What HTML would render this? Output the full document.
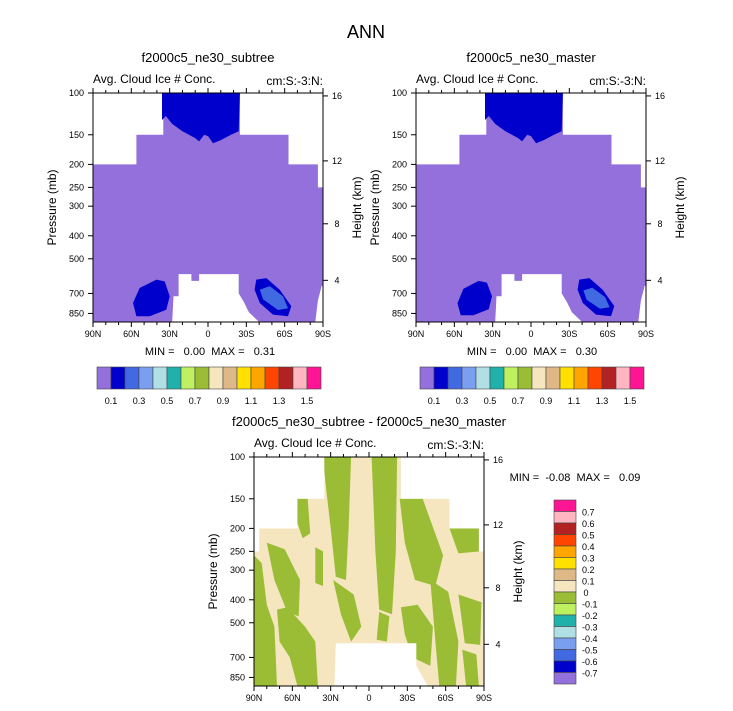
<!DOCTYPE html>
<html><head><meta charset="utf-8">
<style>
html,body{margin:0;padding:0;background:#fff;}
svg{display:block;font-family:"Liberation Sans",Arial,sans-serif;}
text{white-space:pre;}
</style></head>
<body>
<svg id="chart" width="733" height="711" viewBox="0 0 733 711" xmlns="http://www.w3.org/2000/svg">
<text x="366" y="38" font-size="18" text-anchor="middle">ANN</text>
</svg>
<script>
// ---------- data ----------
const pressureTicks = [100,150,200,250,300,400,500,700,850];
const heightTicks = [16,12,8,4];
const latTicks = [90,60,30,0,-30,-60,-90];
const latTickLabels = ["90N","60N","30N","0","30S","60S","90S"];
const levelColors = ["#9370db","#0000cd","#4169e1","#7b9ff0","#b0e0e6","#20b2aa","#bff060","#9abd35","#f5e6c0","#deb887","#ffe000","#ffa500","#ff4500","#b22222","#ffb6c1","#ff1493"];
const hLevelLabels = ["0.1","0.3","0.5","0.7","0.9","1.1","1.3","1.5"];
const vLevelLabels = ["0.7","0.6","0.5","0.4","0.3","0.2","0.1","0","-0.1","-0.2","-0.3","-0.4","-0.5","-0.6","-0.7"];
const stepEdges = [90,86,56,35,-25,-63,-86,-90];
const stepTops1 = [200,200,150,100,150,200,250];
const stepTops3 = [250,200,150,100,150,200,250];
const valley = [[28,930],[27,720],[23,720],[23,580],[13,580],[13,620],[7,620],[7,580],[-24,580],[-24,700],[-28,760],[-32,840],[-40,930]];
const valleyEdge = [[-84,930],[-86,750],[-89,650],[-90,650],[-90,930]];
const valley3 = [[27,930],[26,610],[-37,610],[-37,760],[-42,850],[-46,930]];
const iceCap = [[36,100],[36,130],[33,125],[28,135],[20,145],[10,155],[7,160],[3,150],[0,152],[-4,163],[-10,158],[-18,150],[-24,145],[-25,100]];
const blobLeft = [[58.7,768],[53.5,664],[40.4,612],[33.9,623],[30,720],[32.6,820],[45.6,874],[56,874]];
const blobRight = [[-37.8,612],[-45.7,603],[-56.1,675],[-65.2,792],[-62.6,874],[-50.9,860],[-40.5,768],[-36.5,675]];
const blobRightCore = [[-40.5,675],[-48.3,652],[-58.7,720],[-62.6,808],[-54.8,822],[-43.1,742]];
const blobLeft2 = [[57.5,770],[53,670],[41,620],[34.5,630],[30.5,720],[33,815],[45,865],[55,865]];
const blobRightCore2 = [[-41,680],[-48,662],[-58,725],[-61.5,800],[-54,812],[-43.5,745]];
const diffNeg = [
 [[90,260],[84,280],[80,420],[74,520],[72,930],[90,930]],
 [[80,230],[66,245],[54,330],[55,470],[64,450],[74,330]],
 [[72,440],[64,430],[50,520],[42,600],[40,930],[56,930],[62,700],[70,600]],
 [[57,150],[48,150],[46,210],[52,220],[56,190]],
 [[36,100],[14,100],[16,200],[18,330],[26,320],[30,200],[34,130]],
 [[28,330],[12,380],[6,520],[14,600],[22,460]],
 [[42,240],[36,250],[36,350],[42,340]],
 [[-2,100],[-22,100],[-21,250],[-18,460],[-8,440],[-5,250]],
 [[-24,150],[-42,150],[-58,260],[-52,350],[-36,330],[-28,230]],
 [[-63,200],[-86,200],[-87,250],[-70,255]],
 [[-48,330],[-62,370],[-70,600],[-68,930],[-55,930],[-52,600]],
 [[-25,430],[-38,420],[-50,520],[-48,760],[-34,700],[-28,560]],
 [[-70,380],[-88,410],[-87,620],[-75,610]],
 [[-73,650],[-84,680],[-86,930],[-76,930]],
 [[-8,450],[-16,470],[-14,600],[-6,590]]
];
// ---------- drawing ----------
const NS="http://www.w3.org/2000/svg";
const svg=document.getElementById('chart');
const W=230,H=229,K=103;
function xOf(P,lat){return P.x+(90-lat)/180*W;}
function yOf(P,p){return P.y+Math.min(Math.log(p/100)*K,H);}
function kmToP(km){const z=km*1000;return z<=11000?1013.25*Math.pow(1-2.25577e-5*z,5.25588):226.32*Math.exp(-(z-11000)/6341.6);}
function el(tag,attrs,parent){const e=document.createElementNS(NS,tag);for(const k in attrs)e.setAttribute(k,attrs[k]);(parent||svg).appendChild(e);return e;}
function poly(P,pts,fill,g,name){const e=el('polygon',{points:pts.map(q=>xOf(P,q[0]).toFixed(1)+','+yOf(P,q[1]).toFixed(1)).join(' '),fill:fill},g);


return e;}
function txt(x,y,s,size,anchor,name,g,rot){const e=el('text',{x:x,y:y,'font-size':size,'text-anchor':anchor||'start'},g);e.textContent=s;if(rot)e.setAttribute('transform','rotate(-90 '+x+' '+y+')');


return e;}
function domainPts(tops){const pts=[];for(let i=0;i<tops.length;i++){pts.push([stepEdges[i],tops[i]]);pts.push([stepEdges[i+1],tops[i]]);}pts.push([-90,930]);pts.push([90,930]);return pts;}
function panel(P,title,name,fillFn){
 const g=el('g',{});
 
 
 fillFn(g);
 const fr=el('rect',{x:P.x,y:P.y,width:W,height:H,fill:'none',stroke:'#000','stroke-width':1},g);
 
 
 txt(P.x+W/2,P.y-31,title,13,'middle','panel-title',g);
 txt(P.x,P.y-10,'Avg. Cloud Ice # Conc.',12,'start','variable-label',g);
 txt(P.x+W,P.y-8,'cm:S:-3:N:',12,'end','units-label',g);
 pressureTicks.forEach(p=>{const y=yOf(P,p);el('line',{x1:P.x-5,x2:P.x,y1:y,y2:y,stroke:'#000'},g);txt(P.x-9,y+3,String(p),9,'end','pressure-tick-label',g);});
 heightTicks.forEach(k=>{const y=yOf(P,kmToP(k));el('line',{x1:P.x+W,x2:P.x+W+5,y1:y,y2:y,stroke:'#000'},g);txt(P.x+W+14,y+3,String(k),9,'middle','height-tick-label',g);});
 for(let lat=90;lat>=-90;lat-=10){const x=xOf(P,lat);const L=lat%30===0?5:3;
  el('line',{x1:x,x2:x,y1:P.y+H,y2:P.y+H+L,stroke:'#000'},g);el('line',{x1:x,x2:x,y1:P.y,y2:P.y-L,stroke:'#000'},g);}
 latTicks.forEach((lat,i)=>txt(xOf(P,lat),P.y+H+15,latTickLabels[i],9,'middle','latitude-tick-label',g));
 txt(P.x-37,P.y+H/2,'Pressure (mb)',12,'middle','y-axis-title',g,true);
 txt(P.x+W+38,P.y+H/2,'Height (km)',12,'middle','y2-axis-title',g,true);
 return g;
}
function hColorbar(x,y,name){const g=el('g',{});
 
 
 const w=14;levelColors.forEach((c,i)=>{const r=el('rect',{x:x+i*w,y:y,width:w,height:22,fill:c,stroke:'#444','stroke-width':0.6},g);
 
 });
 hLevelLabels.forEach((s,i)=>txt(x+(2*i+1)*w,y+37,s,9,'middle','colorbar-label',g));}
function vColorbar(x,y,name){const g=el('g',{});
 
 
 const h=11.5;levelColors.slice().reverse().forEach((c,i)=>{const r=el('rect',{x:x,y:y+i*h,width:22,height:h,fill:c,stroke:'#444','stroke-width':0.6},g);
 
 });
 vLevelLabels.forEach((s,i)=>txt(s==='0'?x+32:x+28,y+(i+1)*h+4,s,9,s==='0'?'middle':'start','colorbar-label',g));}

const P1={x:93,y:93},P2={x:416,y:93},P3={x:254,y:457};
panel(P1,'f2000c5_ne30_subtree','panel-subtree',g=>{poly(P1,domainPts(stepTops1),'#9370db',g,'data-region');
 poly(P1,valley,'#fff',g,'missing-region');poly(P1,valleyEdge,'#fff',g,'missing-region');
 poly(P1,iceCap,'#0000cd',g,'ice-cap');poly(P1,blobLeft,'#0000cd',g,'ice-blob-north');
 poly(P1,blobRight,'#0000cd',g,'ice-blob-south');poly(P1,blobRightCore,'#4169e1',g,'ice-blob-south-core');});
panel(P2,'f2000c5_ne30_master','panel-master',g=>{poly(P2,domainPts(stepTops1),'#9370db',g,'data-region');
 poly(P2,valley,'#fff',g,'missing-region');poly(P2,valleyEdge,'#fff',g,'missing-region');
 poly(P2,iceCap,'#0000cd',g,'ice-cap');poly(P2,blobLeft2,'#0000cd',g,'ice-blob-north');
 poly(P2,blobRight,'#0000cd',g,'ice-blob-south');poly(P2,blobRightCore2,'#4169e1',g,'ice-blob-south-core');});
panel(P3,'f2000c5_ne30_subtree - f2000c5_ne30_master','panel-difference',g=>{
 const cp=el('clipPath',{id:'clip3'},g);
 el('polygon',{points:domainPts(stepTops3).map(q=>xOf(P3,q[0]).toFixed(1)+','+yOf(P3,q[1]).toFixed(1)).join(' ')},cp);
 const cg=el('g',{'clip-path':'url(#clip3)'},g);
 
 
 poly(P3,domainPts(stepTops3),'#f5e6c0',cg,'data-region');
 diffNeg.forEach(pts=>poly(P3,pts,'#9abd35',cg,'negative-difference-region'));
 poly(P3,valley3,'#fff',cg,'missing-region');});
txt(210,355,'MIN =   0.00  MAX =   0.31',11,'middle','stats-subtree');
txt(532,355,'MIN =   0.00  MAX =   0.30',11,'middle','stats-master');
txt(575,481,'MIN =  -0.08  MAX =   0.09',11,'middle','stats-difference');
hColorbar(97,367,'colorbar-subtree');
hColorbar(420,367,'colorbar-master');
vColorbar(554,500,'colorbar-difference');
</script>
</body></html>
